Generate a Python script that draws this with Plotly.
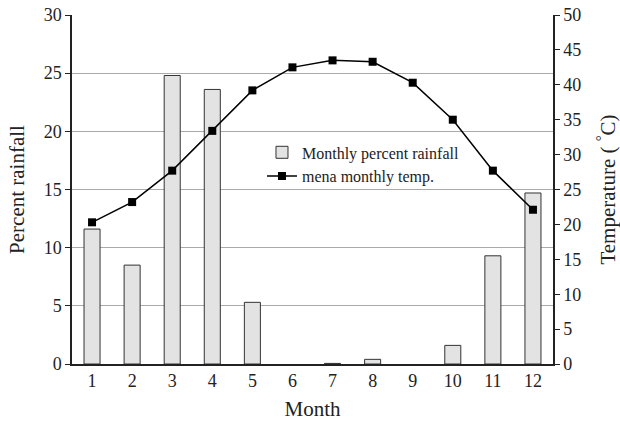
import plotly.graph_objects as go

months = [1, 2, 3, 4, 5, 6, 7, 8, 9, 10, 11, 12]
rainfall_pct = [11.6, 8.5, 24.8, 23.6, 5.3, 0.0, 0.05, 0.4, 0.0, 1.6, 9.3, 14.7]
mean_temp = [20.3, 23.2, 27.7, 33.4, 39.2, 42.5, 43.5, 43.3, 40.3, 35.0, 27.7, 22.1]

font_family = "Liberation Serif, Times New Roman, serif"

fig = go.Figure()
fig.add_trace(go.Bar(
    x=months, y=[v if v > 0 else None for v in rainfall_pct],
    name="Monthly percent rainfall",
    width=0.4,
    marker=dict(color="#e3e3e3", line=dict(color="#333333", width=1)),
    yaxis="y",
))
fig.add_trace(go.Scatter(
    x=months, y=mean_temp, name="mena monthly temp.",
    mode="lines+markers",
    line=dict(color="black", width=1.5),
    marker=dict(symbol="square", size=8, color="black"),
    yaxis="y2",
))

fig.update_layout(
    template="none",
    width=620, height=421,
    margin=dict(l=72, r=67, t=15, b=57, autoexpand=False),
    paper_bgcolor="white", plot_bgcolor="white",
    font=dict(family=font_family, size=18, color="#222222"),
    showlegend=True,
    legend=dict(
        x=0.395, y=0.655, xanchor="left", yanchor="top",
        bgcolor="rgba(0,0,0,0)", font=dict(size=16, family=font_family),
        tracegroupgap=0,
    ),
    xaxis=dict(
        range=[0.5, 12.5], tickmode="array", tickvals=months,
        ticktext=[str(m) for m in months],
        showline=True, linecolor="#222222", linewidth=1.5,
        ticks="", showgrid=False, zeroline=False, automargin=False,
        title=dict(text="Month", font=dict(size=21), standoff=11),
    ),
    yaxis=dict(
        range=[0, 30], dtick=5, tick0=0,
        showline=True, linecolor="#222222", linewidth=1.5,
        ticks="outside", ticklen=5, tickcolor="#222222",
        showgrid=True, gridcolor="#aaaaaa", gridwidth=1,
        zeroline=False, automargin=False,
        title=dict(text="Percent rainfall", font=dict(size=21), standoff=13),
    ),
    yaxis2=dict(
        range=[0, 50], dtick=5, tick0=0,
        overlaying="y", side="right",
        showline=True, linecolor="#222222", linewidth=1.5,
        ticks="outside", ticklen=5, tickcolor="#222222",
        showgrid=False, zeroline=False, automargin=False,
        title=dict(text="Temperature ( <sup>°</sup>C)", font=dict(size=21), standoff=21),
    ),
)

fig.write_html("out.html", config={"displayModeBar": False},
               post_script="document.body.style.margin='0';")
